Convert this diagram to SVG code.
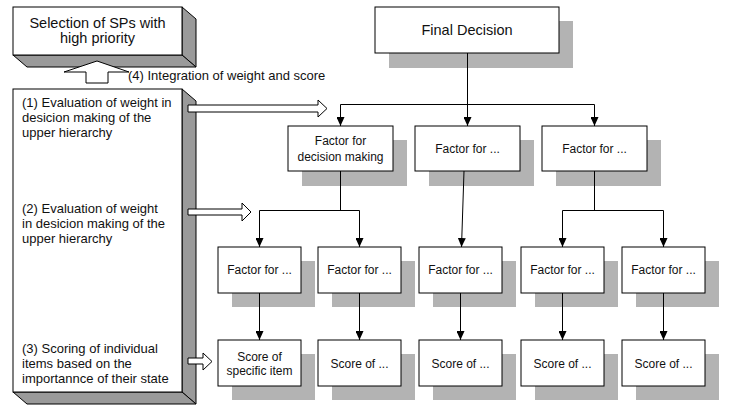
<svg xmlns="http://www.w3.org/2000/svg" width="736" height="405" viewBox="0 0 736 405">
<style>
text{font-family:"Liberation Sans",Arial,sans-serif;fill:#111}
.shadow{fill:#b3b3b3;stroke:none}
.box{fill:#fff;stroke:#000;stroke-width:1}
.side{fill:#9a9a9a;stroke:#000;stroke-width:1}
.front{fill:#fff;stroke:#000;stroke-width:1}
.conn{fill:none;stroke:#000;stroke-width:1}
.blk{fill:#fff;stroke:#000;stroke-width:1}
.t12{font-size:12px;text-anchor:middle}
.t13{font-size:13px}
.t145{font-size:14.5px;text-anchor:middle}
</style>
<defs>
<marker id="ah" markerUnits="userSpaceOnUse" markerWidth="9" markerHeight="8" refX="9" refY="4" orient="auto">
<path d="M0,0 L9,4 L0,8 z" fill="#000"/>
</marker>
</defs>

<g id="top-box">
<polygon class="side" points="182,7 196,19 196,67 182,55"/>
<polygon class="side" points="13,55 182,55 196,67 27,67"/>
<rect class="front" x="13" y="7" width="169" height="48"/>
<text class="t145" x="97.5" y="28">Selection of SPs with</text>
<text class="t145" x="97.5" y="43">high priority</text>
</g>

<g id="left-box">
<polygon class="side" points="182,89 196,101 196,404 182,392"/>
<polygon class="side" points="13,392 182,392 196,404 27,404"/>
<rect class="front" x="13" y="89" width="169" height="303"/>
<text class="t13" x="22" y="107">(1) Evaluation of weight in</text>
<text class="t13" x="22" y="122">desicion making of the</text>
<text class="t13" x="22" y="137">upper hierarchy</text>
<text class="t13" x="22" y="213">(2) Evaluation of weight</text>
<text class="t13" x="22" y="228">in desicion making of the</text>
<text class="t13" x="22" y="243">upper hierarchy</text>
<text class="t13" x="22" y="353">(3) Scoring of individual</text>
<text class="t13" x="22" y="368">items based on the</text>
<text class="t13" x="22" y="383">importannce of their state</text>
</g>

<g id="block-arrows">
<polygon class="blk" points="86,83 86,72 64,72 97,61 129,72 108,72 108,83"/>
<text class="t13" x="128" y="80">(4) Integration of weight and score</text>
<polygon class="blk" points="188,105 318,105 318,100 327,108.5 318,117 318,112 188,112"/>
<polygon class="blk" points="188,209 242,209 242,203 251,212 242,221 242,215 188,215"/>
<polygon class="blk" points="188,358 203,358 203,353 212,361.5 203,370 203,364 188,364"/>
</g>

<g id="final-decision">
<rect class="shadow" x="389" y="21" width="184" height="47"/>
<rect class="box" x="375" y="7" width="184" height="46"/>
<text class="t145" x="467" y="35">Final Decision</text>
</g>

<g id="f1">
<rect class="shadow" x="302" y="140" width="105" height="46"/>
<rect class="box" x="288" y="126" width="105" height="45"/>
<text class="t12" x="340.5" y="145">Factor for</text>
<text class="t12" x="340.5" y="161">decision making</text>
</g>
<g id="f2">
<rect class="shadow" x="429" y="140" width="105" height="46"/>
<rect class="box" x="415" y="126" width="105" height="45"/>
<text class="t12" x="467.5" y="153">Factor for ...</text>
</g>
<g id="f3">
<rect class="shadow" x="556" y="140" width="105" height="46"/>
<rect class="box" x="542" y="126" width="105" height="45"/>
<text class="t12" x="594.5" y="153">Factor for ...</text>
</g>

<g id="f11">
<rect class="shadow" x="232" y="261" width="83" height="46"/>
<rect class="box" x="218" y="247" width="83" height="46"/>
<text class="t12" x="259.5" y="274">Factor for ...</text>
</g>
<g id="f12">
<rect class="shadow" x="332" y="261" width="83" height="46"/>
<rect class="box" x="318" y="247" width="83" height="46"/>
<text class="t12" x="359.5" y="274">Factor for ...</text>
</g>
<g id="f21">
<rect class="shadow" x="433" y="261" width="83" height="46"/>
<rect class="box" x="419" y="247" width="83" height="46"/>
<text class="t12" x="460.5" y="274">Factor for ...</text>
</g>
<g id="f31">
<rect class="shadow" x="535" y="261" width="83" height="46"/>
<rect class="box" x="521" y="247" width="83" height="46"/>
<text class="t12" x="562.5" y="274">Factor for ...</text>
</g>
<g id="f32">
<rect class="shadow" x="636" y="261" width="83" height="46"/>
<rect class="box" x="622" y="247" width="83" height="46"/>
<text class="t12" x="663.5" y="274">Factor for ...</text>
</g>

<g id="s11">
<rect class="shadow" x="232" y="354" width="83" height="46"/>
<rect class="box" x="218" y="340" width="83" height="46"/>
<text class="t12" x="259.5" y="361">Score of</text>
<text class="t12" x="259.5" y="375">specific item</text>
</g>
<g id="s12">
<rect class="shadow" x="332" y="354" width="83" height="46"/>
<rect class="box" x="318" y="340" width="83" height="46"/>
<text class="t12" x="359.5" y="368">Score of ...</text>
</g>
<g id="s21">
<rect class="shadow" x="433" y="354" width="83" height="46"/>
<rect class="box" x="419" y="340" width="83" height="46"/>
<text class="t12" x="460.5" y="368">Score of ...</text>
</g>
<g id="s31">
<rect class="shadow" x="535" y="354" width="83" height="46"/>
<rect class="box" x="521" y="340" width="83" height="46"/>
<text class="t12" x="562.5" y="368">Score of ...</text>
</g>
<g id="s32">
<rect class="shadow" x="636" y="354" width="83" height="46"/>
<rect class="box" x="622" y="340" width="83" height="46"/>
<text class="t12" x="663.5" y="368">Score of ...</text>
</g>

<g id="connectors">
<line class="conn" x1="467.5" y1="53" x2="467.5" y2="104.5"/>
<line class="conn" x1="340.5" y1="104.5" x2="594.5" y2="104.5"/>
<line class="conn" x1="340.5" y1="104.5" x2="340.5" y2="126" marker-end="url(#ah)"/>
<line class="conn" x1="467.5" y1="104.5" x2="467.5" y2="126" marker-end="url(#ah)"/>
<line class="conn" x1="594.5" y1="104.5" x2="594.5" y2="126" marker-end="url(#ah)"/>
<line class="conn" x1="340.5" y1="171" x2="340.5" y2="210.5"/>
<line class="conn" x1="259.5" y1="210.5" x2="359.5" y2="210.5"/>
<line class="conn" x1="259.5" y1="210.5" x2="259.5" y2="247" marker-end="url(#ah)"/>
<line class="conn" x1="359.5" y1="210.5" x2="359.5" y2="247" marker-end="url(#ah)"/>
<line class="conn" x1="594.5" y1="171" x2="594.5" y2="210.5"/>
<line class="conn" x1="562.5" y1="210.5" x2="663.5" y2="210.5"/>
<line class="conn" x1="562.5" y1="210.5" x2="562.5" y2="247" marker-end="url(#ah)"/>
<line class="conn" x1="663.5" y1="210.5" x2="663.5" y2="247" marker-end="url(#ah)"/>
<line class="conn" x1="464" y1="171" x2="461.5" y2="247" marker-end="url(#ah)"/>
<line class="conn" x1="259.5" y1="293" x2="259.5" y2="340" marker-end="url(#ah)"/>
<line class="conn" x1="359.5" y1="293" x2="359.5" y2="340" marker-end="url(#ah)"/>
<line class="conn" x1="460.5" y1="293" x2="460.5" y2="340" marker-end="url(#ah)"/>
<line class="conn" x1="562.5" y1="293" x2="562.5" y2="340" marker-end="url(#ah)"/>
<line class="conn" x1="663.5" y1="293" x2="663.5" y2="340" marker-end="url(#ah)"/>
</g>
</svg>
